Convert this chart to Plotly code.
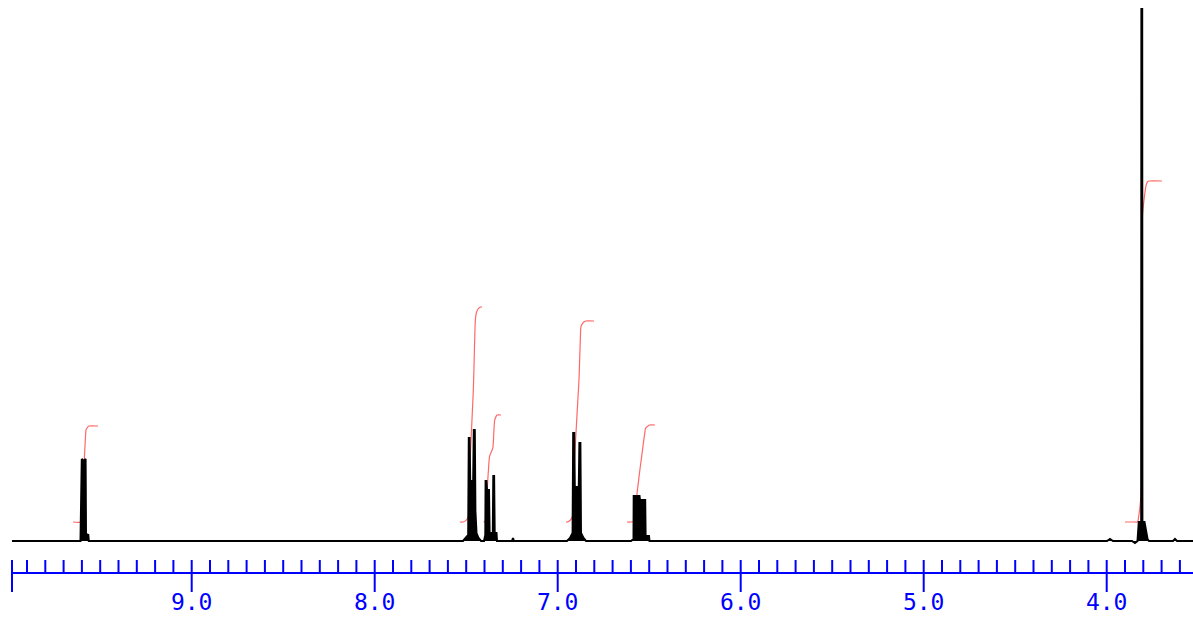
import numpy as np
import plotly.graph_objects as go

spec_ppm = [
    9.9820,
    # 9.58 singlet
    9.6077, 9.6006, 9.5913, 9.5798, 9.5776, 9.5650, 9.5623,
    # 7.49 / 7.45
    7.5175, 7.5011, 7.4891, 7.4858, 7.4814, 7.4781, 7.4618, 7.4585, 7.4530, 7.4497,
    7.4437, 7.4328, 7.4191,
    # 7.39 / 7.35
    7.4027, 7.3956, 7.3940, 7.3896, 7.3863, 7.3754, 7.3721, 7.3546, 7.3519, 7.3475,
    7.3443, 7.3344, 7.3317,
    7.2497, 7.2443, 7.2388,
    # 6.89
    6.9492, 6.9328, 6.9186, 6.9153, 6.9098, 6.9066, 6.8847, 6.8814, 6.8760, 6.8727,
    6.8590, 6.8454,
    # 6.55
    6.5995, 6.5858, 6.5847, 6.5530, 6.5503, 6.5219, 6.5197, 6.5011, 6.4984,
    # 3.81
    3.9984, 3.9820, 3.9656, 3.8618, 3.8454, 3.8317, 3.8246, 3.8115, 3.8104, 3.8060,
    3.8049, 3.7934, 3.7852, 3.7770, 3.7689, 3.6377, 3.6268, 3.6158,
    3.5000,
]
spec_int = [
    0,
    0, 82, 80, 82, 7, 6, 0,
    0, 3, 6, 103, 103, 60, 60, 111, 111, 30,
    8, 3, 0,
    0, 6, 60, 60, 51, 51, 8, 8, 65, 65,
    8, 8, 0,
    0, 3, 0,
    0, 3, 8, 108, 108, 54, 54, 98, 98, 8,
    3, 0,
    0, 2, 45, 45, 41, 41, 5, 5, 0,
    0, 2, 0, 0, -2, 0, 19, 19, 532, 532,
    19, 19, 8, 2, 0, 0, 2, 0,
    0,
]

# ---- integral regions (start ppm, end ppm, integral height) ----
int_start = [9.6486, 7.5339, 7.4054, 6.9546, 6.6213, 3.9001]
int_end = [9.5120, 7.4137, 7.3096, 6.8016, 6.4683, 3.6979]
int_value = [96, 215, 107, 201, 97, 341]
int_base = 19

# ---- axis ruler ----
major_ticks = [9.0, 8.0, 7.0, 6.0, 5.0, 4.0]
major_labels = ["9.0", "8.0", "7.0", "6.0", "5.0", "4.0"]
minor_ticks = [round(9.9 - 0.1 * i, 1) for i in range(64)]
ruler_start = 9.982
ruler_end = 3.50

RULER_Y = -32
TICK_TOP = -19
MAJOR_BOTTOM = -51
LABEL_Y = -63

fig = go.Figure()

# integrals (red)
px = np.array(spec_ppm)
py = np.array(spec_int, dtype=float)
for s, e, v in zip(int_start, int_end, int_value):
    mask = (px <= s) & (px >= e)
    xs = px[mask]
    ys = np.clip(py[mask], 0, None)
    area = np.concatenate([[0], np.cumsum(0.5 * (ys[1:] + ys[:-1]) * np.abs(np.diff(xs)))])
    cum = int_base + v * area / area[-1]
    ix = np.concatenate([[s], xs, [e]])
    iy = np.concatenate([[int_base], cum, [int_base + v]])
    fig.add_trace(go.Scatter(
        x=ix, y=iy, mode="lines",
        line=dict(color="rgba(255,40,40,0.7)", width=1.2, shape="spline", smoothing=0.6),
        hoverinfo="skip"))

# spectrum (black, filled under outline)
fig.add_trace(go.Scatter(x=spec_ppm, y=spec_int, mode="lines", fill="tozeroy",
                         fillcolor="black",
                         line=dict(color="black", width=2), hoverinfo="skip"))

# ruler line + ticks (blue)
fig.add_trace(go.Scatter(x=[ruler_start, ruler_end], y=[RULER_Y, RULER_Y], mode="lines",
                         line=dict(color="#0000ff", width=2), hoverinfo="skip"))
tx, ty = [], []
for t in minor_ticks:
    bottom = MAJOR_BOTTOM if abs(t - round(t)) < 1e-6 else RULER_Y
    tx += [t, t, None]
    ty += [TICK_TOP, bottom, None]
tx += [ruler_start, ruler_start, None]
ty += [TICK_TOP, MAJOR_BOTTOM, None]
fig.add_trace(go.Scatter(x=tx, y=ty, mode="lines", line=dict(color="#0000ff", width=2),
                         hoverinfo="skip"))
fig.add_trace(go.Scatter(x=major_ticks, y=[LABEL_Y] * len(major_ticks), mode="text",
                         text=major_labels,
                         textfont=dict(family="DejaVu Sans Mono", size=23, color="#0000ff"),
                         hoverinfo="skip"))

fig.update_layout(
    width=1193, height=618,
    margin=dict(l=0, r=0, t=0, b=0),
    paper_bgcolor="white", plot_bgcolor="white",
    showlegend=False,
    xaxis=dict(range=[10.04754, 3.5284], visible=False, fixedrange=True),
    yaxis=dict(range=[-77, 541], visible=False, fixedrange=True),
)

fig.write_html("out.html", config={"displayModeBar": False},
               post_script="document.body.style.margin='0';")
